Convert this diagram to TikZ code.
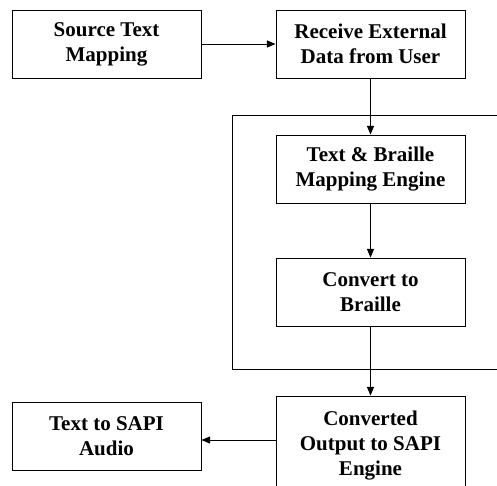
\documentclass[tikz,border=0pt]{standalone}
\usepackage{fontspec}
\setmainfont{Liberation Serif}
\usetikzlibrary{arrows}
\usetikzlibrary{positioning}

\begin{document}
\begin{tikzpicture}
		[x=1pt,y=-1pt,
		 font=\fontsize{21}{25}\selectfont\bfseries,
		 block/.style={rectangle,draw,line width=1pt,minimum width=189pt,minimum height=68pt,align=center,inner sep=0pt},
		 flow/.style={->,>=triangle 45,line width=1pt}]

		\useasboundingbox (0,0) rectangle (497,485);

		\node[block] (source) at (106.5,44) {Source Text\\Mapping};
		\node[block] (receive) [right=74pt of source] {Receive External\\Data from User};
		\draw[flow] (source.east) -- (receive.west);

		% engine frame, cut by the page at right
		\draw[line width=1pt] (497,115) -- (232,115) -- (232,369) -- (497,369);

		\node[block] (mapping) [below=56pt of receive] {Text \& Braille\\Mapping Engine};
		\node[block] (convert) [below=54pt of mapping] {Convert to\\Braille};
		\draw[flow] (receive.south) -- (mapping.north);
		\draw[flow] (mapping.south) -- (convert.north);

		\node[block,minimum height=100pt] (output) [below=69pt of convert] {Converted\\Output to SAPI\\Engine};
		\draw[flow] (convert.south) -- (output.north);

		\node[block] (audio) at (106.5,436) {Text to SAPI\\Audio};
		\draw[flow] (output.west |- 0,440) -- (audio.east |- 0,440);
	\end{tikzpicture}
\end{document}
